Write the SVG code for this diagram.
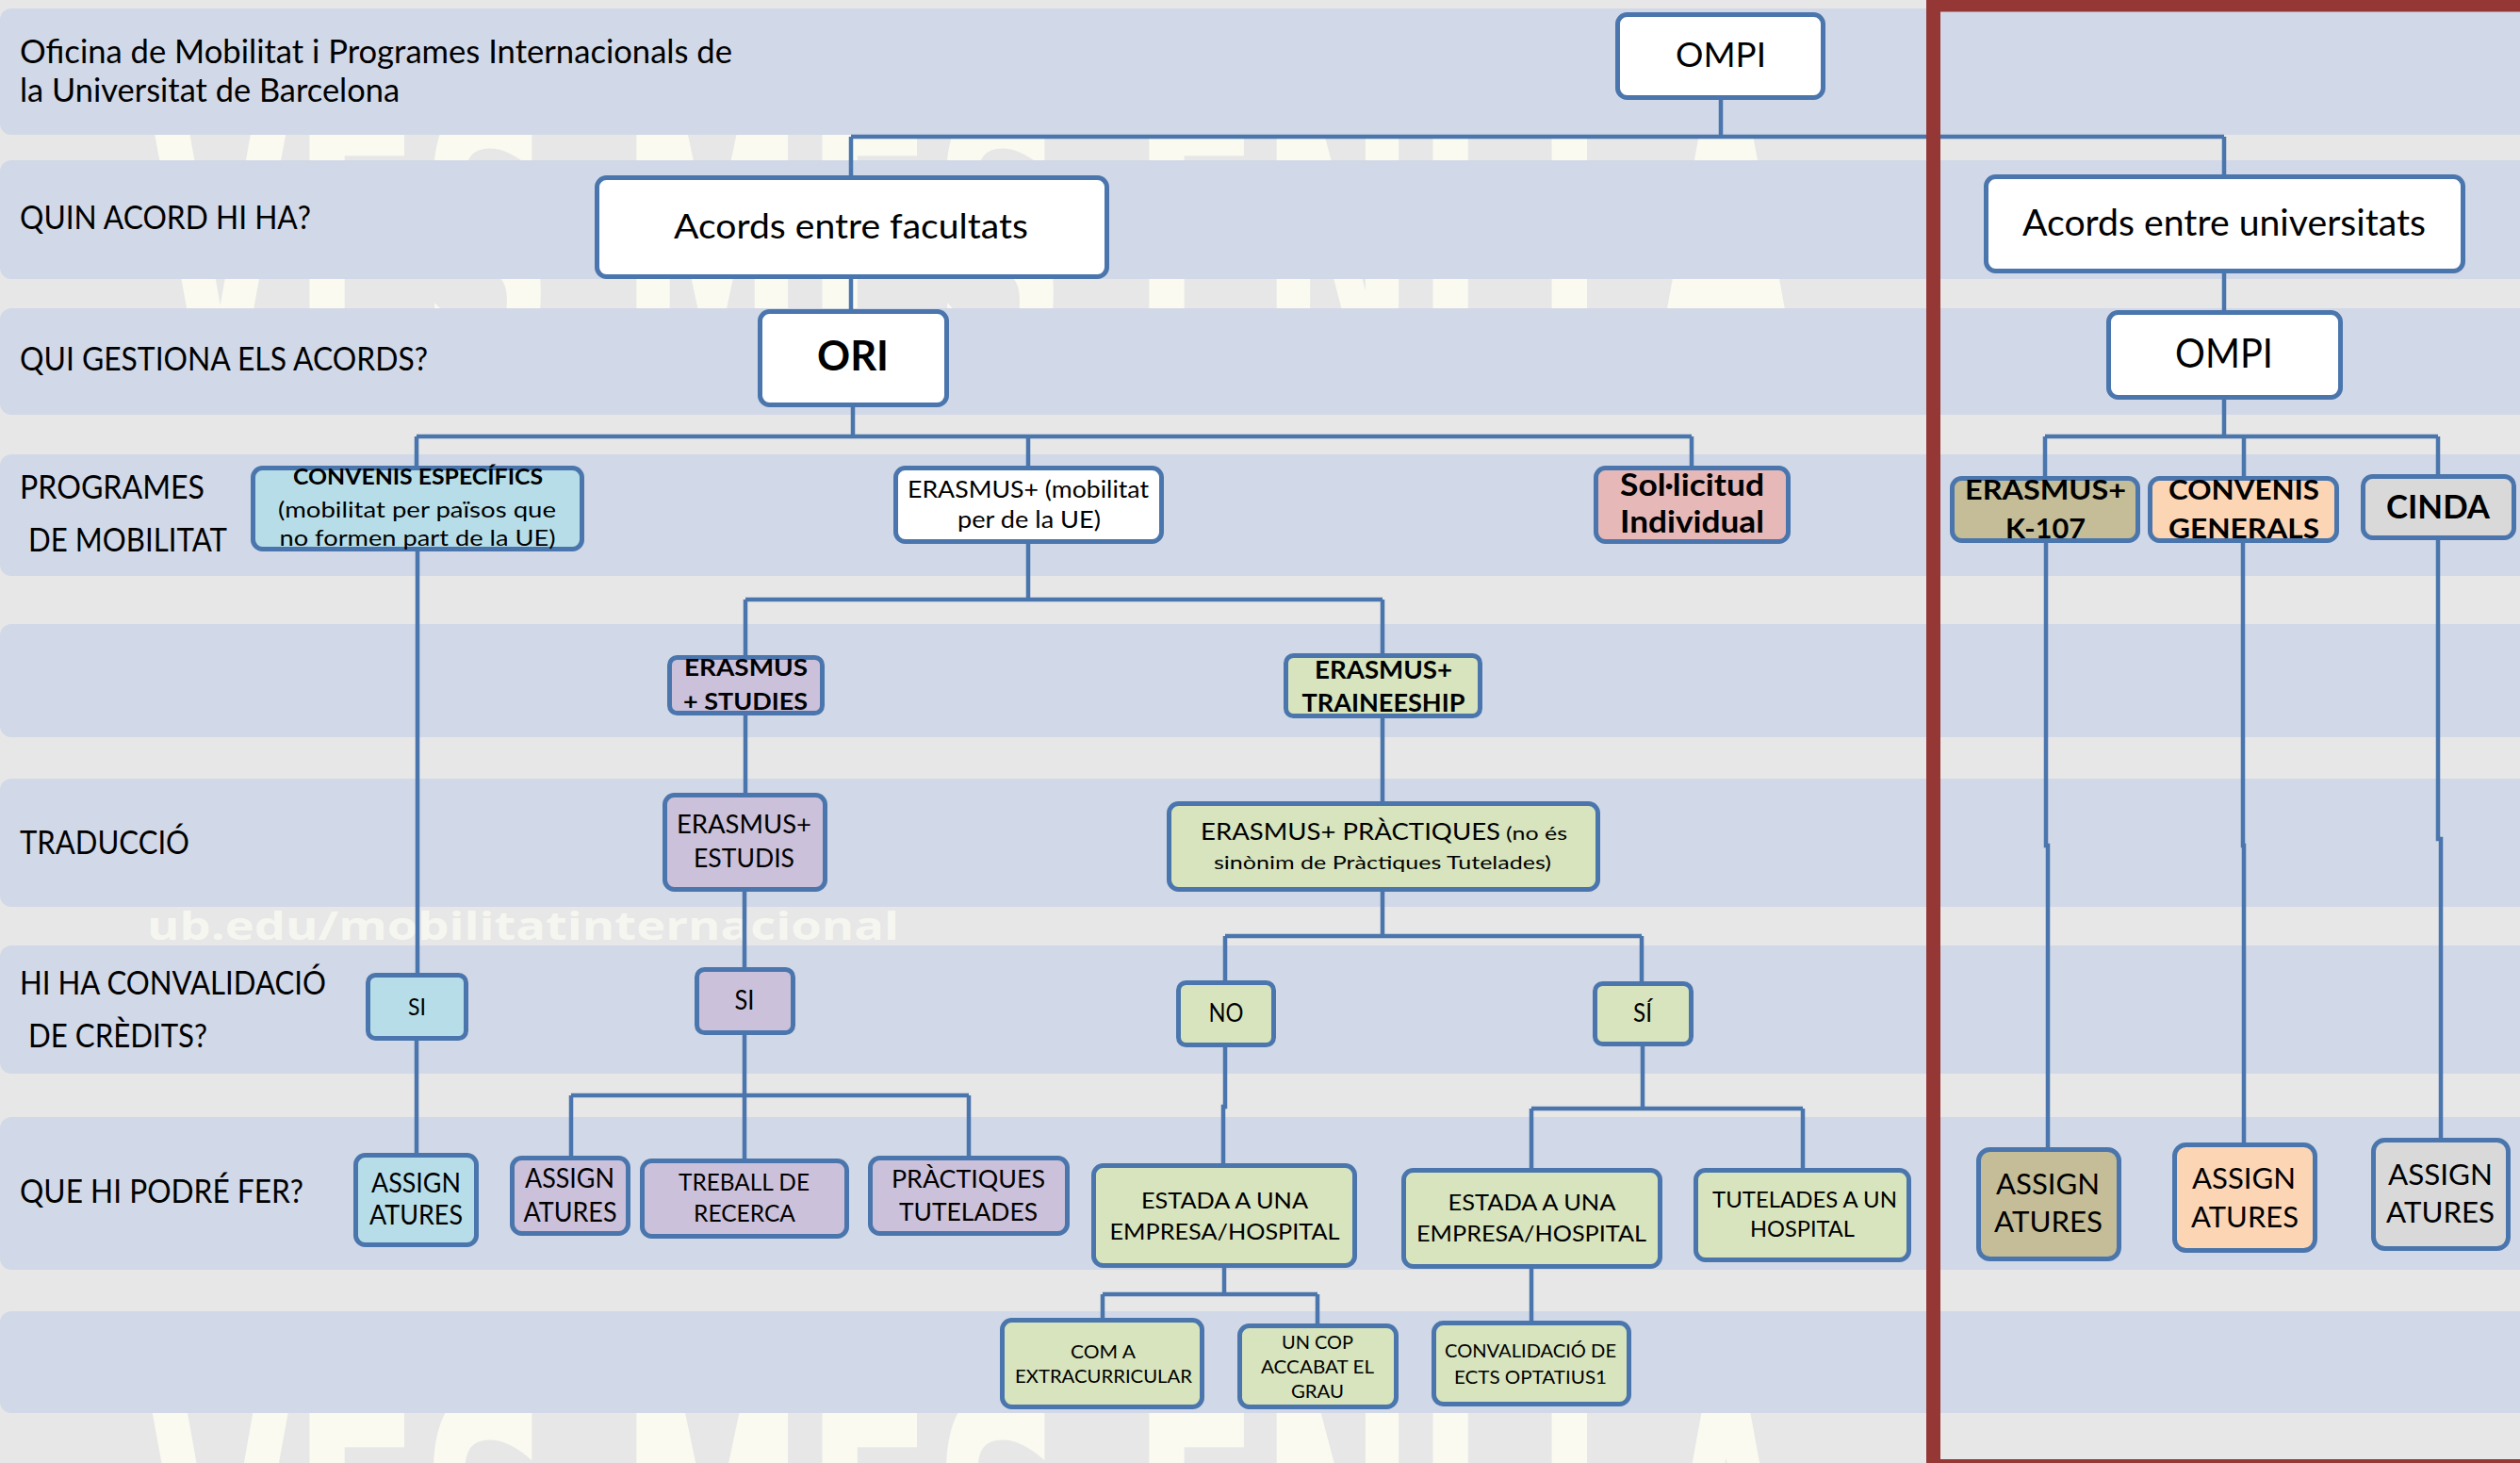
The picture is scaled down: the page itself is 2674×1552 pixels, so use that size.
<svg xmlns="http://www.w3.org/2000/svg" width="2674" height="1552" viewBox="0 0 2674 1552">
<defs>
<style>
.band{fill:#d1d8e7}
.n{stroke:#4a76ad;stroke-width:5}
.white{fill:#ffffff}.blue{fill:#b7dee8}.purple{fill:#ccc1da}.green{fill:#d7e4bd}.pink{fill:#e6b9b8}.tan{fill:#c4bd97}.peach{fill:#fcd5b5}.gray{fill:#d9d9d9}
.c{fill:none;stroke:#4a76ad;stroke-width:4.5}
.t{font-family:Lato,"Liberation Sans",sans-serif;fill:#000}
.m{text-anchor:middle}
.b{font-weight:bold}
.lab{font-size:34px}
.wm{font-family:"DejaVu Sans Condensed","DejaVu Sans",sans-serif;font-weight:bold;font-size:200px;fill:#fafaf1}
.url{font-family:"Open Sans","DejaVu Sans",sans-serif;font-weight:bold;font-size:41px;fill:#f6f6f1}
</style>
</defs>
<g id="background">
<rect x="0" y="0" width="2674" height="1552" fill="#e7e7e7"/>
<text class="wm" x="0" y="0" transform="matrix(1 0 0 2 157 400)" textLength="1751" lengthAdjust="spacingAndGlyphs">VES MÉS ENLLÀ</text>
<text class="wm" x="0" y="0" transform="matrix(1 0 0 2 157 1770)" textLength="1751" lengthAdjust="spacingAndGlyphs">VES MÉS ENLLÀ</text>
<rect class="band" x="0" y="9" width="2700" height="134" rx="12"/>
<rect class="band" x="0" y="170" width="2700" height="126" rx="12"/>
<rect class="band" x="0" y="327" width="2700" height="113" rx="12"/>
<rect class="band" x="0" y="482" width="2700" height="129" rx="12"/>
<rect class="band" x="0" y="662" width="2700" height="120" rx="12"/>
<rect class="band" x="0" y="826" width="2700" height="136" rx="12"/>
<rect class="band" x="0" y="1003" width="2700" height="136" rx="12"/>
<rect class="band" x="0" y="1185" width="2700" height="162" rx="12"/>
<rect class="band" x="0" y="1391" width="2700" height="108" rx="12"/>
<text class="url" x="156" y="997" textLength="798" lengthAdjust="spacingAndGlyphs">ub.edu/mobilitatinternacional</text>
</g>
<g id="row-labels">
<text class="t lab" x="21" y="67" textLength="756" lengthAdjust="spacingAndGlyphs">Oficina de Mobilitat i Programes Internacionals de</text>
<text class="t lab" x="21" y="107.5" textLength="403" lengthAdjust="spacingAndGlyphs">la Universitat de Barcelona</text>
<text class="t lab" x="21" y="243" textLength="309" lengthAdjust="spacingAndGlyphs">QUIN ACORD HI HA?</text>
<text class="t lab" x="21" y="393" textLength="433" lengthAdjust="spacingAndGlyphs">QUI GESTIONA ELS ACORDS?</text>
<text class="t lab" x="21" y="529" textLength="196" lengthAdjust="spacingAndGlyphs">PROGRAMES</text>
<text class="t lab" x="30" y="585" textLength="211" lengthAdjust="spacingAndGlyphs">DE MOBILITAT</text>
<text class="t lab" x="21" y="906" textLength="180" lengthAdjust="spacingAndGlyphs">TRADUCCIÓ</text>
<text class="t lab" x="21" y="1055" textLength="325" lengthAdjust="spacingAndGlyphs">HI HA CONVALIDACIÓ</text>
<text class="t lab" x="30" y="1111" textLength="190" lengthAdjust="spacingAndGlyphs">DE CRÈDITS?</text>
<text class="t lab" x="21" y="1276" textLength="301" lengthAdjust="spacingAndGlyphs">QUE HI PODRÉ FER?</text>
</g>
<g id="connectors">
<path class="c" d="M1826 106V145M903 145H2360M903 145V188M2360 145V187"/>
<path class="c" d="M903 296V330"/>
<path class="c" d="M905 432V463M442 463H1795M442 463V496M1091 463V496M1795 463V496"/>
<path class="c" d="M443 585V1034M442 1104V1225"/>
<path class="c" d="M1091 577V636M791 636H1467M791 636V697M1467 636V695"/>
<path class="c" d="M791 759V843M790 946V1028"/>
<path class="c" d="M790 1098V1162M606 1162H1028M606 1162V1228M790 1162V1231M1028 1162V1228"/>
<path class="c" d="M1467 762V852M1467 946V993M1300 993H1742M1300 993V1042M1742 993V1043"/>
<path class="c" d="M1300 1111V1174H1298V1236"/>
<path class="c" d="M1743 1110V1176M1625 1176H1913M1625 1176V1241M1913 1176V1241"/>
<path class="c" d="M1299 1345V1373M1170 1373H1398M1170 1373V1400M1398 1373V1406"/>
<path class="c" d="M1625 1346V1403"/>
<path class="c" d="M2360 290V331M2360 424V463M2170 463H2587M2170 463V507M2381 463V507M2587 463V505"/>
<path class="c" d="M2171 576V897H2173V1219M2380 576V897H2381V1214M2587 573V890H2590V1209"/>
</g>
<g id="node-ompi-top"><rect class="n white" x="1716.5" y="15.5" width="218" height="88" rx="10"/><text class="t m" x="1826" y="71" font-size="36" textLength="96" lengthAdjust="spacingAndGlyphs">OMPI</text></g>
<g id="node-acords-facultats"><rect class="n white" x="633.5" y="188.5" width="541" height="105" rx="10"/><text class="t m" x="903" y="253" font-size="36" textLength="376" lengthAdjust="spacingAndGlyphs">Acords entre facultats</text></g>
<g id="node-ori"><rect class="n white" x="806.5" y="330.5" width="198" height="99" rx="10"/><text class="t m b" x="905" y="393" font-size="44" textLength="76" lengthAdjust="spacingAndGlyphs">ORI</text></g>
<g id="node-acords-universitats"><rect class="n white" x="2107.5" y="187.5" width="506" height="100" rx="10"/><text class="t m" x="2360" y="250" font-size="37.7" textLength="428" lengthAdjust="spacingAndGlyphs">Acords entre universitats</text></g>
<g id="node-ompi-right"><rect class="n white" x="2237.5" y="331.5" width="246" height="90" rx="10"/><text class="t m" x="2360" y="389.5" font-size="42" textLength="104" lengthAdjust="spacingAndGlyphs">OMPI</text></g>
<g id="node-convenis-especifics"><rect class="n blue" x="268.5" y="496.5" width="349" height="86" rx="10"/>
<text class="t m b" x="443.5" y="514" font-size="23.7" textLength="265" lengthAdjust="spacingAndGlyphs">CONVENIS ESPECÍFICS</text>
<text class="t m" x="442.5" y="549" font-size="23.7" textLength="295" lengthAdjust="spacingAndGlyphs">(mobilitat per països que</text>
<text class="t m" x="443" y="579" font-size="23.7" textLength="293" lengthAdjust="spacingAndGlyphs">no formen part de la UE)</text></g>
<g id="node-erasmus-mobilitat"><rect class="n white" x="950.5" y="496.5" width="282" height="78" rx="10"/>
<text class="t m" x="1091" y="528" font-size="25" textLength="256" lengthAdjust="spacingAndGlyphs">ERASMUS+ (mobilitat</text>
<text class="t m" x="1092" y="559.5" font-size="25" textLength="152" lengthAdjust="spacingAndGlyphs">per de la UE)</text></g>
<g id="node-sollicitud"><rect class="n pink" x="1693.5" y="496.5" width="204" height="78" rx="10"/>
<text class="t m b" x="1795.5" y="526" font-size="33" textLength="153" lengthAdjust="spacingAndGlyphs">Sol·licitud</text>
<text class="t m b" x="1795.5" y="565" font-size="33" textLength="153" lengthAdjust="spacingAndGlyphs">Individual</text></g>
<g id="node-erasmus-k107"><rect class="n tan" x="2071.5" y="507.5" width="197" height="66" rx="10"/>
<text class="t m b" x="2170.5" y="530" font-size="27.6" textLength="171" lengthAdjust="spacingAndGlyphs">ERASMUS+</text>
<text class="t m b" x="2170.5" y="571" font-size="27.6" textLength="85" lengthAdjust="spacingAndGlyphs">K-107</text></g>
<g id="node-convenis-generals"><rect class="n peach" x="2281.5" y="507.5" width="198" height="66" rx="10"/>
<text class="t m b" x="2381" y="530" font-size="27.6" textLength="160" lengthAdjust="spacingAndGlyphs">CONVENIS</text>
<text class="t m b" x="2381" y="571" font-size="27.6" textLength="160" lengthAdjust="spacingAndGlyphs">GENERALS</text></g>
<g id="node-cinda"><rect class="n gray" x="2507.5" y="505.5" width="160" height="65" rx="10"/>
<text class="t m b" x="2587" y="550" font-size="34" textLength="110" lengthAdjust="spacingAndGlyphs">CINDA</text></g>
<g id="node-erasmus-studies"><rect class="n purple" x="710.5" y="697.5" width="162" height="59" rx="8"/>
<text class="t m b" x="791.5" y="717" font-size="25" textLength="131" lengthAdjust="spacingAndGlyphs">ERASMUS</text>
<text class="t m b" x="791" y="753" font-size="25" textLength="132" lengthAdjust="spacingAndGlyphs">+ STUDIES</text></g>
<g id="node-erasmus-traineeship"><rect class="n green" x="1364.5" y="695.5" width="206" height="64" rx="8"/>
<text class="t m b" x="1468" y="720" font-size="26.4" textLength="146" lengthAdjust="spacingAndGlyphs">ERASMUS+</text>
<text class="t m b" x="1468" y="755" font-size="26.4" textLength="173" lengthAdjust="spacingAndGlyphs">TRAINEESHIP</text></g>
<g id="node-erasmus-estudis"><rect class="n purple" x="705.5" y="843.5" width="170" height="100" rx="10"/>
<text class="t m" x="789.5" y="884" font-size="26" textLength="143" lengthAdjust="spacingAndGlyphs">ERASMUS+</text>
<text class="t m" x="789.5" y="920" font-size="26" textLength="107" lengthAdjust="spacingAndGlyphs">ESTUDIS</text></g>
<g id="node-erasmus-practiques"><rect class="n green" x="1240.5" y="852.5" width="455" height="91" rx="10"/>
<text class="t" x="1274" y="891" font-size="25" textLength="318" lengthAdjust="spacingAndGlyphs">ERASMUS+ PRÀCTIQUES</text>
<text class="t" x="1598" y="891" font-size="20" textLength="65" lengthAdjust="spacingAndGlyphs">(no és</text>
<text class="t" x="1288" y="922" font-size="20" textLength="358" lengthAdjust="spacingAndGlyphs">sinònim de Pràctiques Tutelades)</text></g>
<g id="node-si-convenis"><rect class="n blue" x="390.5" y="1034.5" width="104" height="67" rx="8"/>
<text class="t m" x="442.5" y="1077" font-size="25.5" textLength="19" lengthAdjust="spacingAndGlyphs">SI</text></g>
<g id="node-si-estudis"><rect class="n purple" x="739.5" y="1028.5" width="102" height="67" rx="8"/>
<text class="t m" x="790" y="1071" font-size="28" textLength="21" lengthAdjust="spacingAndGlyphs">SI</text></g>
<g id="node-no"><rect class="n green" x="1250.5" y="1042.5" width="101" height="66" rx="8"/>
<text class="t m" x="1301" y="1084" font-size="26" textLength="37" lengthAdjust="spacingAndGlyphs">NO</text></g>
<g id="node-si-practiques"><rect class="n green" x="1692.5" y="1043.5" width="102" height="64" rx="8"/>
<text class="t m" x="1743" y="1084" font-size="26" textLength="20" lengthAdjust="spacingAndGlyphs">SÍ</text></g>
<g id="node-assignatures-convenis"><rect class="n blue" x="377.5" y="1225.5" width="128" height="95" rx="10"/>
<text class="t m" x="441.5" y="1265" font-size="28" textLength="95" lengthAdjust="spacingAndGlyphs">ASSIGN</text>
<text class="t m" x="441.5" y="1299" font-size="28" textLength="99" lengthAdjust="spacingAndGlyphs">ATURES</text></g>
<g id="node-assignatures-estudis"><rect class="n purple" x="543.5" y="1228.5" width="123" height="80" rx="10"/>
<text class="t m" x="604.5" y="1260" font-size="28" textLength="95" lengthAdjust="spacingAndGlyphs">ASSIGN</text>
<text class="t m" x="605" y="1296" font-size="28" textLength="99" lengthAdjust="spacingAndGlyphs">ATURES</text></g>
<g id="node-treball-recerca"><rect class="n purple" x="681.5" y="1231.5" width="217" height="80" rx="10"/>
<text class="t m" x="789.5" y="1263" font-size="24.7" textLength="139" lengthAdjust="spacingAndGlyphs">TREBALL DE</text>
<text class="t m" x="790" y="1296" font-size="24.7" textLength="108" lengthAdjust="spacingAndGlyphs">RECERCA</text></g>
<g id="node-practiques-tutelades"><rect class="n purple" x="923.5" y="1228.5" width="209" height="80" rx="10"/>
<text class="t m" x="1027.5" y="1260" font-size="26.5" textLength="163" lengthAdjust="spacingAndGlyphs">PRÀCTIQUES</text>
<text class="t m" x="1027.5" y="1295" font-size="26.5" textLength="147" lengthAdjust="spacingAndGlyphs">TUTELADES</text></g>
<g id="node-estada-no"><rect class="n green" x="1160.5" y="1236.5" width="277" height="106" rx="10"/>
<text class="t m" x="1299.5" y="1282" font-size="23.3" textLength="177" lengthAdjust="spacingAndGlyphs">ESTADA A UNA</text>
<text class="t m" x="1299.5" y="1315" font-size="23.3" textLength="244" lengthAdjust="spacingAndGlyphs">EMPRESA/HOSPITAL</text></g>
<g id="node-estada-si"><rect class="n green" x="1489.5" y="1241.5" width="272" height="102" rx="10"/>
<text class="t m" x="1625.5" y="1284" font-size="24" textLength="178" lengthAdjust="spacingAndGlyphs">ESTADA A UNA</text>
<text class="t m" x="1625" y="1317" font-size="24" textLength="244" lengthAdjust="spacingAndGlyphs">EMPRESA/HOSPITAL</text></g>
<g id="node-tutelades-hospital"><rect class="n green" x="1799.5" y="1241.5" width="226" height="95" rx="10"/>
<text class="t m" x="1915" y="1281" font-size="22.8" textLength="196" lengthAdjust="spacingAndGlyphs">TUTELADES A UN</text>
<text class="t m" x="1912.5" y="1312" font-size="22.8" textLength="111" lengthAdjust="spacingAndGlyphs">HOSPITAL</text></g>
<g id="node-com-a-extracurricular"><rect class="n green" x="1063.5" y="1400.5" width="212" height="92" rx="10"/>
<text class="t m" x="1170.5" y="1440.7" font-size="19.5" textLength="69" lengthAdjust="spacingAndGlyphs">COM A</text>
<text class="t m" x="1171" y="1466.7" font-size="19.5" textLength="188" lengthAdjust="spacingAndGlyphs">EXTRACURRICULAR</text></g>
<g id="node-un-cop-acabat"><rect class="n green" x="1315.5" y="1406.5" width="166" height="86" rx="10"/>
<text class="t m" x="1398" y="1430.7" font-size="19.5" textLength="76" lengthAdjust="spacingAndGlyphs">UN COP</text>
<text class="t m" x="1398" y="1456.7" font-size="19.5" textLength="120" lengthAdjust="spacingAndGlyphs">ACCABAT EL</text>
<text class="t m" x="1398" y="1482.7" font-size="19.5" textLength="56" lengthAdjust="spacingAndGlyphs">GRAU</text></g>
<g id="node-convalidacio-ects"><rect class="n green" x="1521.5" y="1403.5" width="207" height="86" rx="10"/>
<text class="t m" x="1624" y="1440" font-size="19.5" textLength="182" lengthAdjust="spacingAndGlyphs">CONVALIDACIÓ DE</text>
<text class="t m" x="1624" y="1468" font-size="19.5" textLength="162" lengthAdjust="spacingAndGlyphs">ECTS OPTATIUS1</text></g>
<g id="node-assignatures-k107"><rect class="n tan" x="2099.5" y="1219.5" width="149" height="116" rx="12"/>
<text class="t m" x="2173" y="1267" font-size="31.6" textLength="110" lengthAdjust="spacingAndGlyphs">ASSIGN</text>
<text class="t m" x="2173.5" y="1307" font-size="31.6" textLength="115" lengthAdjust="spacingAndGlyphs">ATURES</text></g>
<g id="node-assignatures-generals"><rect class="n peach" x="2307.5" y="1214.5" width="149" height="112" rx="12"/>
<text class="t m" x="2381" y="1261" font-size="31.6" textLength="110" lengthAdjust="spacingAndGlyphs">ASSIGN</text>
<text class="t m" x="2382" y="1302" font-size="31.6" textLength="114" lengthAdjust="spacingAndGlyphs">ATURES</text></g>
<g id="node-assignatures-cinda"><rect class="n gray" x="2518.5" y="1209.5" width="143" height="115" rx="12"/>
<text class="t m" x="2589.5" y="1257" font-size="31.6" textLength="111" lengthAdjust="spacingAndGlyphs">ASSIGN</text>
<text class="t m" x="2589.5" y="1297" font-size="31.6" textLength="115" lengthAdjust="spacingAndGlyphs">ATURES</text></g>
<g id="frame"><rect x="2051.5" y="5" width="700" height="1550.5" fill="none" stroke="#953735" stroke-width="15"/></g>
</svg>
